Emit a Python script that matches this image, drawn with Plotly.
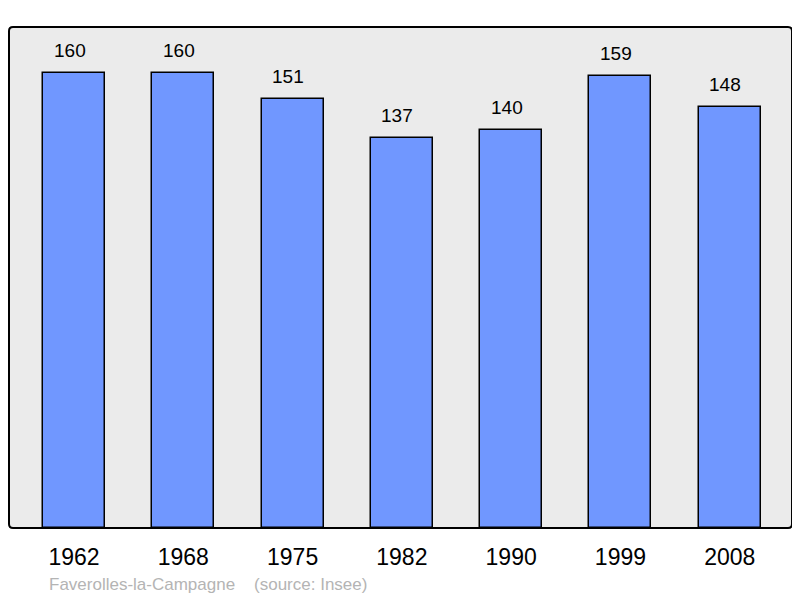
import plotly.graph_objects as go

years = ["1962", "1968", "1975", "1982", "1990", "1999", "2008"]
population = [160, 160, 151, 137, 140, 159, 148]
source_text = "Faverolles-la-Campagne    (source: Insee)"

xs = list(range(len(years)))
FONT = "Liberation Sans, Arial, sans-serif"

fig = go.Figure()
fig.add_trace(go.Bar(
    x=xs, y=population, width=0.567,
    marker=dict(color="#7097ff", line=dict(color="#000000", width=1.5)),
    hoverinfo="skip",
))

for xi, v in zip(xs, population):
    fig.add_annotation(x=xi, y=v, text=str(v), showarrow=False,
                       yanchor="bottom", yshift=10, xshift=-4.5,
                       font=dict(family=FONT, size=19, color="#000000"))

fig.add_annotation(xref="paper", yref="paper", x=0.048, y=0, yshift=-56,
                   xanchor="left", yanchor="middle", text=source_text, showarrow=False,
                   font=dict(family=FONT, size=17, color="#b4b4b4"))

# frame with slightly rounded corners
rx, ry = 4 / 783, 4 / 501
frame = (f"M {rx},0 L {1-rx},0 Q 1,0 1,{ry} L 1,{1-ry} Q 1,1 {1-rx},1 "
         f"L {rx},1 Q 0,1 0,{1-ry} L 0,{ry} Q 0,0 {rx},0 Z")
fig.add_shape(type="path", xref="paper", yref="paper", path=frame,
              line=dict(color="#000000", width=2), layer="above")

fig.update_layout(
    width=800, height=598,
    margin=dict(l=1, r=16, t=19, b=78),
    paper_bgcolor="#ffffff", plot_bgcolor="#ebebeb",
    showlegend=False,
    bargap=0,
    xaxis=dict(range=[-0.595, 6.57], tickvals=xs, ticktext=years,
               showgrid=False, zeroline=False, ticks="outside", ticklen=8,
               tickcolor="rgba(0,0,0,0)",
               tickfont=dict(family=FONT, size=23, color="#000000")),
    yaxis=dict(range=[0, 176.2], showgrid=False, zeroline=False, showticklabels=False),
)

fig.write_html("out.html")
